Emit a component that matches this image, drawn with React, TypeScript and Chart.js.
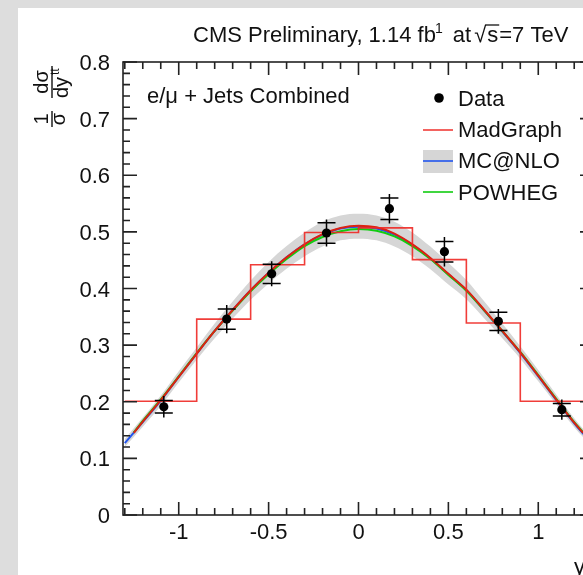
import React, { useEffect, useRef } from "react";
import { Chart, registerables } from "chart.js";
Chart.register(...registerables);

// ---- data ----
const xTicks = [-1, -0.5, 0, 0.5, 1];
const xTickLabels = ["-1", "-0.5", "0", "0.5", "1"];
const yTicks = [0, 0.1, 0.2, 0.3, 0.4, 0.5, 0.6, 0.7, 0.8];
const yTickLabels = ["0", "0.1", "0.2", "0.3", "0.4", "0.5", "0.6", "0.7", "0.8"];

const histEdges = [-1.3, -0.9, -0.6, -0.3, 0, 0.3, 0.6, 0.9, 1.3];
const histValues = [0.201, 0.346, 0.442, 0.499, 0.507, 0.451, 0.339, 0.201];

const dataX = [-1.083, -0.733, -0.483, -0.178, 0.172, 0.478, 0.778, 1.131];
const dataY = [0.191, 0.346, 0.426, 0.498, 0.541, 0.465, 0.342, 0.186];
const statErr = [0.011, 0.018, 0.017, 0.018, 0.019, 0.018, 0.016, 0.011];
const totErr = [0.019, 0.025, 0.022, 0.024, 0.026, 0.026, 0.022, 0.018];

const mgX = [-1.25, -1.2, -1.1, -1.0, -0.9, -0.8, -0.7, -0.6, -0.5, -0.4, -0.3, -0.2, -0.1, 0, 0.1, 0.2, 0.3, 0.4, 0.5, 0.6, 0.7, 0.8, 0.9, 1.0, 1.1, 1.2, 1.25];
const madgraph = [0.145, 0.165, 0.203, 0.244, 0.285, 0.325, 0.362, 0.397, 0.428, 0.455, 0.478, 0.496, 0.507, 0.511, 0.508, 0.497, 0.478, 0.454, 0.426, 0.398, 0.362, 0.325, 0.287, 0.246, 0.204, 0.163, 0.145];
const powheg = [0.146, 0.166, 0.204, 0.245, 0.286, 0.325, 0.361, 0.395, 0.425, 0.452, 0.475, 0.491, 0.501, 0.505, 0.502, 0.492, 0.475, 0.452, 0.424, 0.396, 0.361, 0.325, 0.288, 0.247, 0.205, 0.164, 0.146];

const mcX = [-1.3, -1.2, -1.1, -1.0, -0.9, -0.8, -0.7, -0.6, -0.5, -0.4, -0.3, -0.2, -0.1, 0, 0.1, 0.2, 0.3, 0.4, 0.5, 0.6, 0.7, 0.8, 0.9, 1.0, 1.1, 1.2, 1.3];
const mcnlo = [0.127, 0.164, 0.202, 0.244, 0.285, 0.325, 0.362, 0.397, 0.428, 0.455, 0.478, 0.495, 0.506, 0.509, 0.506, 0.495, 0.477, 0.453, 0.425, 0.397, 0.361, 0.324, 0.286, 0.245, 0.203, 0.162, 0.126];
const bandUp = [0.134, 0.172, 0.211, 0.254, 0.296, 0.338, 0.377, 0.414, 0.447, 0.475, 0.499, 0.518, 0.529, 0.532, 0.529, 0.518, 0.499, 0.474, 0.445, 0.415, 0.377, 0.338, 0.298, 0.256, 0.213, 0.171, 0.134];
const bandLo = [0.120, 0.156, 0.193, 0.234, 0.274, 0.312, 0.347, 0.380, 0.409, 0.435, 0.457, 0.474, 0.485, 0.488, 0.485, 0.474, 0.457, 0.434, 0.407, 0.381, 0.347, 0.312, 0.276, 0.236, 0.195, 0.155, 0.120];

const FONT = '"Liberation Sans", Arial, Helvetica, sans-serif';
const RED = "#dd2211";
const HRED = "rgba(238,40,35,0.9)";
const BLUE = "#2255ee";
const GREEN = "#11cc11";
const BAND = "#d6d6d6";

const pts = (xs: number[], ys: number[]) => xs.map((x, i) => ({ x, y: ys[i] }));

const decor = {
  id: "decor",
  afterDatasetsDraw(chart: any) {
    const { ctx, scales } = chart;
    const x = scales.x, y = scales.y;
    ctx.save();
    ctx.strokeStyle = "#000";
    ctx.lineWidth = 1.5;
    dataX.forEach((xv, i) => {
      const px = x.getPixelForValue(xv);
      const t1 = y.getPixelForValue(dataY[i] + totErr[i]);
      const t0 = y.getPixelForValue(dataY[i] - totErr[i]);
      const s1 = y.getPixelForValue(dataY[i] + statErr[i]);
      const s0 = y.getPixelForValue(dataY[i] - statErr[i]);
      ctx.beginPath();
      ctx.moveTo(px, t1);
      ctx.lineTo(px, t0);
      ctx.moveTo(px - 9, s1);
      ctx.lineTo(px + 9, s1);
      ctx.moveTo(px - 9, s0);
      ctx.lineTo(px + 9, s0);
      ctx.stroke();
    });
    ctx.restore();
  },
  afterDraw(chart: any) {
    const { ctx, chartArea: a, scales } = chart;
    const x = scales.x, y = scales.y;
    ctx.save();
    // frame
    ctx.strokeStyle = "#222";
    ctx.lineWidth = 1.6;
    ctx.strokeRect(a.left, a.top, a.right - a.left, a.bottom - a.top);
    ctx.beginPath();
    for (let k = -13; k <= 13; k++) {
      const px = x.getPixelForValue(k / 10);
      const len = k % 5 === 0 ? 13 : 7;
      ctx.moveTo(px, a.bottom);
      ctx.lineTo(px, a.bottom - len);
      ctx.moveTo(px, a.top);
      ctx.lineTo(px, a.top + len);
    }
    for (let k = 0; k <= 40; k++) {
      const py = y.getPixelForValue(k * 0.02);
      const len = k % 5 === 0 ? 14 : 7;
      ctx.moveTo(a.left, py);
      ctx.lineTo(a.left + len, py);
      ctx.moveTo(a.right, py);
      ctx.lineTo(a.right - len, py);
    }
    ctx.stroke();

    ctx.fillStyle = "#111";
    ctx.textBaseline = "alphabetic";
    ctx.textAlign = "left";
    // title
    let tx = 175;
    const tb = 34;
    ctx.font = `22px ${FONT}`;
    const t1 = "CMS Preliminary, 1.14 fb";
    ctx.fillText(t1, tx, tb);
    tx += ctx.measureText(t1).width;
    ctx.font = `14px ${FONT}`;
    ctx.fillText("1", tx - 1, tb - 9);
    tx += ctx.measureText("1").width + 3;
    ctx.font = `22px ${FONT}`;
    ctx.fillText(" at", tx, tb);
    tx += ctx.measureText(" at").width + 3;
    ctx.fillText("\u221A", tx, tb);
    tx += ctx.measureText("\u221A").width + 1;
    const sw = ctx.measureText("s").width;
    ctx.fillText("s", tx, tb);
    ctx.beginPath();
    ctx.lineWidth = 1.3;
    ctx.strokeStyle = "#111";
    ctx.moveTo(tx - 2, tb - 17);
    ctx.lineTo(tx + sw + 1, tb - 17);
    ctx.stroke();
    tx += sw + 1;
    ctx.fillText("=7 TeV", tx, tb);

    // channel label
    ctx.fillText("e/\u03BC + Jets Combined", 129, 95);

    // legend
    ctx.fillStyle = "#000";
    ctx.beginPath();
    ctx.arc(421, 90, 4.8, 0, Math.PI * 2);
    ctx.fill();
    ctx.fillStyle = "#111";
    ctx.fillText("Data", 440, 97.5);
    ctx.lineWidth = 1.6;
    ctx.strokeStyle = HRED;
    ctx.beginPath();
    ctx.moveTo(405, 122);
    ctx.lineTo(435, 122);
    ctx.stroke();
    ctx.fillText("MadGraph", 440, 128.5);
    ctx.fillStyle = BAND;
    ctx.fillRect(405, 142, 30, 23);
    ctx.strokeStyle = BLUE;
    ctx.beginPath();
    ctx.moveTo(405, 153);
    ctx.lineTo(435, 153);
    ctx.stroke();
    ctx.fillStyle = "#111";
    ctx.fillText("MC@NLO", 440, 160);
    ctx.strokeStyle = GREEN;
    ctx.beginPath();
    ctx.moveTo(405, 184);
    ctx.lineTo(435, 184);
    ctx.stroke();
    ctx.fillText("POWHEG", 440, 192);

    // x-axis title (cut off at the right edge)
    ctx.fillText("y", 556, 566);
    ctx.font = `13px ${FONT}`;
    ctx.fillText("tt", 568, 558);

    // y-axis title, rotated
    ctx.save();
    ctx.translate(34, 0);
    ctx.rotate(-Math.PI / 2);
    ctx.font = `20px ${FONT}`;
    ctx.textAlign = "center";
    ctx.fillStyle = "#111";
    ctx.strokeStyle = "#111";
    ctx.lineWidth = 1.4;
    // 1 / sigma
    ctx.fillText("1", -111, -4);
    ctx.fillText("\u03C3", -111, 13);
    ctx.beginPath();
    ctx.moveTo(-119, 0);
    ctx.lineTo(-103, 0);
    // d sigma / dy^tt
    ctx.moveTo(-90, 0);
    ctx.lineTo(-58, 0);
    ctx.stroke();
    ctx.fillText("d\u03C3", -74, -4);
    ctx.textAlign = "left";
    ctx.fillText("dy", -90, 16);
    ctx.font = `12px ${FONT}`;
    ctx.fillText("tt", -67, 7);
    ctx.restore();

    ctx.restore();
  },
};

export default function App() {
  const ref = useRef<HTMLCanvasElement>(null);
  useEffect(() => {
    if (!ref.current) return;
    const histData = histEdges.map((e, i) => ({ x: e, y: histValues[Math.min(i, histValues.length - 1)] }));
    const chart = new Chart(ref.current, {
      type: "line",
      data: {
        datasets: [
          {
            label: "Data",
            data: pts(dataX, dataY),
            showLine: false,
            pointRadius: 4.6,
            pointBackgroundColor: "#000",
            pointBorderWidth: 0,
          } as any,
          {
            label: "hist",
            data: histData,
            stepped: "before",
            borderColor: HRED,
            borderWidth: 1.6,
            pointRadius: 0,
            fill: false,
          },
          {
            label: "MadGraph",
            data: pts(mgX, madgraph),
            borderColor: RED,
            borderWidth: 2,
            pointRadius: 0,
            cubicInterpolationMode: "monotone",
            fill: false,
          },
          {
            label: "POWHEG",
            data: pts(mgX, powheg),
            borderColor: GREEN,
            borderWidth: 2,
            pointRadius: 0,
            cubicInterpolationMode: "monotone",
            fill: false,
          },
          {
            label: "MC@NLO",
            data: pts(mcX, mcnlo),
            borderColor: BLUE,
            borderWidth: 2,
            pointRadius: 0,
            cubicInterpolationMode: "monotone",
            fill: false,
          },
          {
            label: "bandUp",
            data: pts(mcX, bandUp),
            borderWidth: 0,
            borderColor: "rgba(0,0,0,0)",
            backgroundColor: BAND,
            pointRadius: 0,
            cubicInterpolationMode: "monotone",
            fill: "+1",
          },
          {
            label: "bandLo",
            data: pts(mcX, bandLo),
            borderWidth: 0,
            borderColor: "rgba(0,0,0,0)",
            pointRadius: 0,
            cubicInterpolationMode: "monotone",
            fill: false,
          },
        ],
      },
      options: {
        responsive: false,
        devicePixelRatio: 1,
        animation: false,
        events: [],
        layout: { padding: { top: 54, right: 44, left: 0, bottom: 0 } },
        plugins: { legend: { display: false }, tooltip: { enabled: false }, title: { display: false } },
        scales: {
          x: {
            type: "linear",
            min: -1.31,
            max: 1.31,
            afterFit: (s: any) => { s.height = 60; },
            afterBuildTicks: (s: any) => { s.ticks = xTicks.map((v) => ({ value: v })); },
            grid: { display: false },
            border: { display: false },
            ticks: {
              padding: -3,
              maxRotation: 0,
              autoSkip: false,
              color: "#111",
              font: { family: FONT, size: 22 },
              callback: (v: any) => xTickLabels[xTicks.indexOf(Number(v))] ?? "",
            },
          },
          y: {
            type: "linear",
            min: 0,
            max: 0.8,
            afterFit: (s: any) => { s.width = 105; },
            afterBuildTicks: (s: any) => { s.ticks = yTicks.map((v) => ({ value: v })); },
            grid: { display: false },
            border: { display: false },
            ticks: {
              padding: 5,
              labelOffset: 2,
              autoSkip: false,
              color: "#111",
              font: { family: FONT, size: 22 },
              callback: (v: any) => {
                const i = yTicks.findIndex((t) => Math.abs(t - Number(v)) < 1e-6);
                return i >= 0 ? yTickLabels[i] : "";
              },
            },
          },
        },
      },
      plugins: [decor],
    });
    return () => chart.destroy();
  }, []);
  return (
    <div style={{ position: "fixed", inset: 0, overflow: "hidden", background: "#dddddd" }}>
      <div style={{ position: "absolute", left: 18, top: 8, width: 640, height: 640, background: "#ffffff" }}>
        <canvas ref={ref} width={620} height={567} style={{ display: "block", width: 620, height: 567 }} />
      </div>
    </div>
  );
}
